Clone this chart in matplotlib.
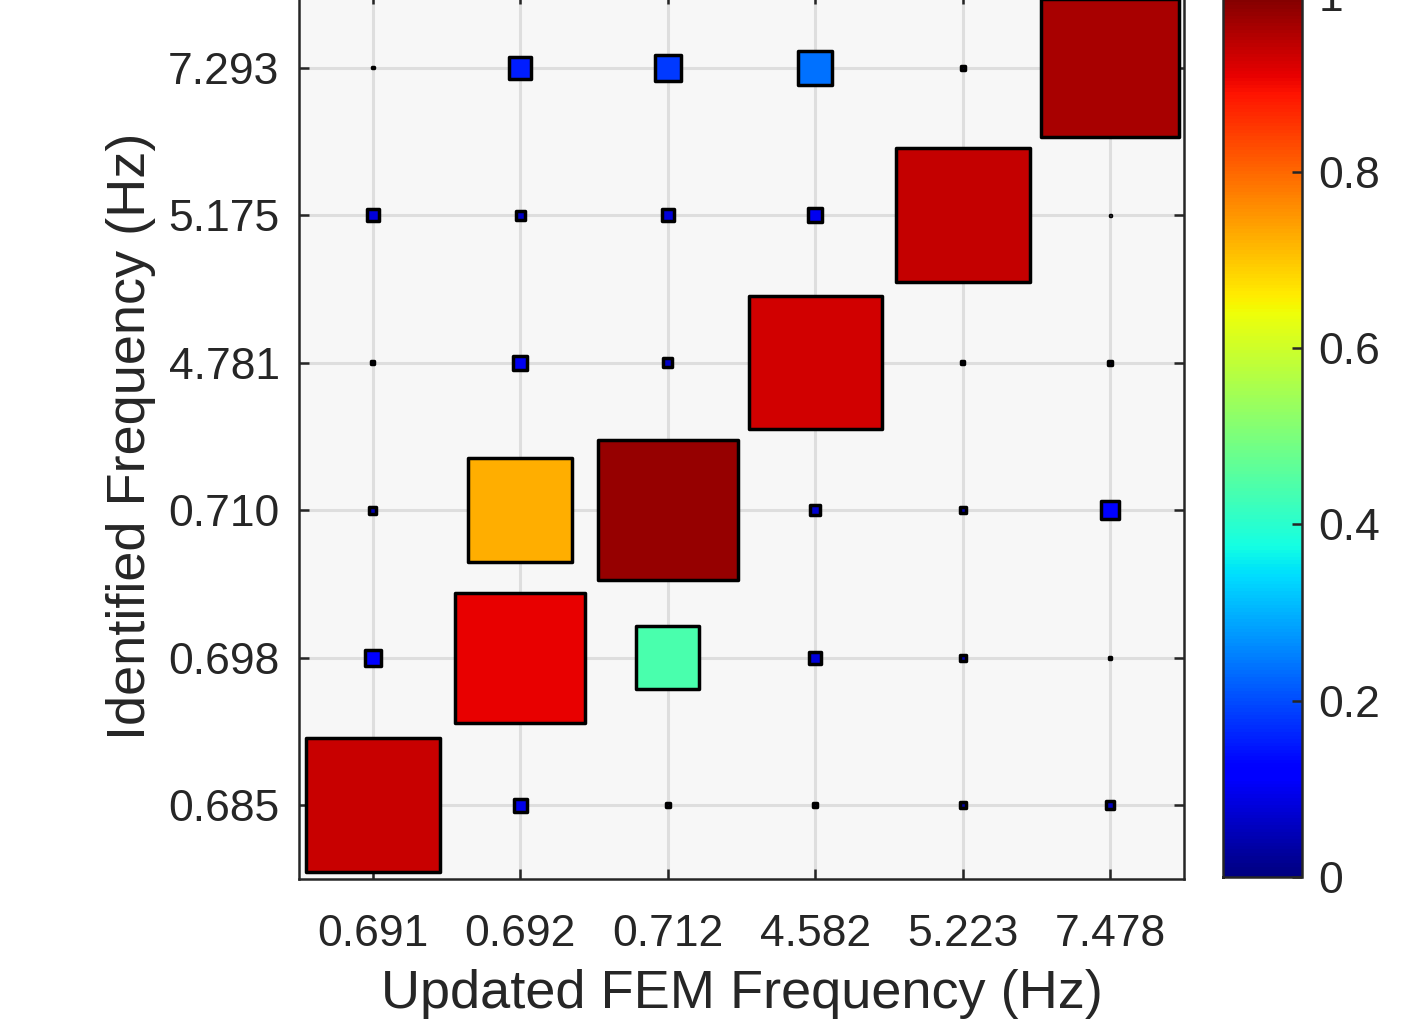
import numpy as np
import matplotlib.pyplot as plt
from matplotlib.patches import Rectangle
from matplotlib.collections import PatchCollection

plt.rcParams['font.family'] = ['Liberation Sans', 'DejaVu Sans']

fem_freq = ['0.691', '0.692', '0.712', '4.582', '5.223', '7.478']
id_freq = ['0.685', '0.698', '0.710', '4.781', '5.175', '7.293']

# MAC values, one list per identified mode (bottom row first), columns follow fem_freq
mac_0685 = [0.934, 0.090, 0.026, 0.026, 0.040, 0.058]
mac_0698 = [0.114, 0.908, 0.440, 0.082, 0.044, 0.016]
mac_0710 = [0.050, 0.724, 0.978, 0.072, 0.044, 0.128]
mac_4781 = [0.020, 0.100, 0.063, 0.927, 0.020, 0.028]
mac_5175 = [0.082, 0.063, 0.082, 0.100, 0.939, 0.010]
mac_7293 = [0.010, 0.154, 0.180, 0.235, 0.030, 0.963]

mac = np.array([mac_0685, mac_0698, mac_0710, mac_4781, mac_5175, mac_7293])

spine_col = '#262626'
fig = plt.figure(figsize=(14.02, 10.29), dpi=100)
ax = fig.add_axes([0.2133, 0.1458, 0.6312, 0.860])
cax = fig.add_axes([0.8723, 0.1477, 0.0563, 0.857])

# one square per cell, side scaled by the MAC value
scale = 0.97
rects, vals = [], []
for j in range(mac.shape[0]):
    for i in range(mac.shape[1]):
        v = mac[j, i]
        s = v * scale
        rects.append(Rectangle((i + 1 - s / 2, j + 1 - s / 2), s, s))
        vals.append(v)
pc = PatchCollection(rects, cmap='jet', edgecolor='black', linewidth=2.5, zorder=3)
pc.set_array(np.array(vals))
pc.set_clim(0, 1)
ax.add_collection(pc)

ax.set_xlim(0.5, 6.5)
ax.set_ylim(0.5, 6.5)
ax.set_xticks(np.arange(1, 7))
ax.set_yticks(np.arange(1, 7))
ax.set_xticklabels(fem_freq)
ax.set_yticklabels(id_freq)
ax.set_facecolor('#f7f7f7')
ax.grid(True, color='#dedede', linewidth=2.2)
ax.set_axisbelow(True)
ax.tick_params(direction='in', length=7, width=1.8, color=spine_col,
               labelsize=32, labelcolor='#262626', top=True, right=True)
ax.tick_params(axis='x', pad=25)
ax.tick_params(axis='y', pad=14)
for sp in ax.spines.values():
    sp.set_color(spine_col)
    sp.set_linewidth(1.8)
ax.set_xlabel('Updated FEM Frequency (Hz)', fontsize=39, color='#262626', labelpad=10)
ax.set_ylabel('Identified Frequency (Hz)', fontsize=39, color='#262626', labelpad=9)

cb = fig.colorbar(pc, cax=cax)
cb.set_ticks([0, 0.2, 0.4, 0.6, 0.8, 1.0])
cb.set_ticklabels(['0', '0.2', '0.4', '0.6', '0.8', '1'])
cax.tick_params(direction='in', length=7, width=1.8, color=spine_col,
                labelsize=32, labelcolor='#262626', pad=12)
cb.outline.set_edgecolor(spine_col)
cb.outline.set_linewidth(1.8)

plt.savefig('out.png', dpi=100)
plt.close(fig)
